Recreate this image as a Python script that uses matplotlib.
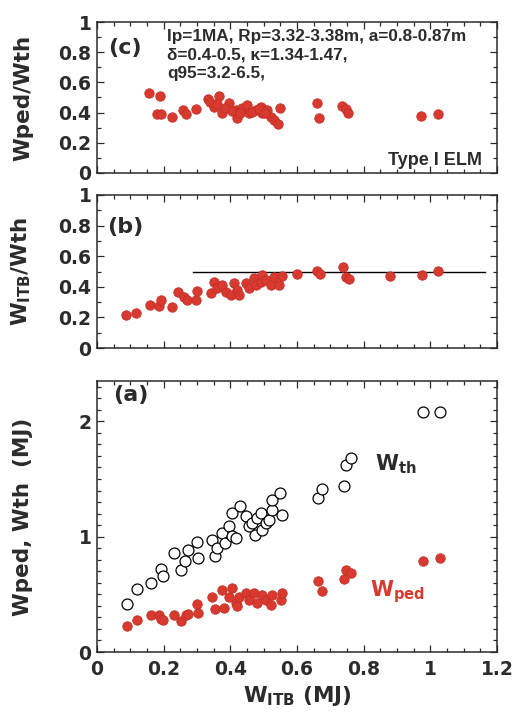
import numpy as np
import matplotlib
matplotlib.use("Agg")
import matplotlib.pyplot as plt
from matplotlib.ticker import MultipleLocator

plt.rcParams['font.family'] = ['DejaVu Sans']
plt.rcParams['font.weight'] = 'bold'
plt.rcParams['mathtext.default'] = 'bf'

RED = '#d83a30'
RED_EDGE = '#c22e26'
INK = '#2b2b2b'

# (c) pedestal energy fraction vs W_ITB
c_witb = [0.156, 0.189, 0.181, 0.191, 0.224, 0.259, 0.266, 0.296, 0.334, 0.366,
          0.351, 0.376, 0.396, 0.416, 0.421, 0.436, 0.451, 0.456, 0.476, 0.491,
          0.496, 0.511, 0.521, 0.531, 0.544, 0.549, 0.385, 0.405, 0.430, 0.465,
          0.485, 0.505, 0.340, 0.360, 0.660, 0.666, 0.736, 0.746, 0.754, 0.973, 1.023]
c_ratio = [0.528, 0.512, 0.391, 0.389, 0.373, 0.417, 0.389, 0.422, 0.488, 0.512,
           0.439, 0.395, 0.462, 0.417, 0.362, 0.428, 0.450, 0.395, 0.417, 0.439,
           0.395, 0.417, 0.373, 0.351, 0.325, 0.428, 0.430, 0.410, 0.400, 0.405,
           0.425, 0.400, 0.470, 0.455, 0.464, 0.362, 0.444, 0.422, 0.399, 0.377, 0.389]
c_conditions = ['Ip=1MA, Rp=3.32-3.38m, a=0.8-0.87m',
                'δ=0.4-0.5, κ=1.34-1.47,',
                'q95=3.2-6.5,']

# (b) ITB energy fraction vs W_ITB
b_witb = [0.086, 0.116, 0.158, 0.186, 0.191, 0.226, 0.244, 0.261, 0.271, 0.296,
          0.299, 0.341, 0.351, 0.361, 0.376, 0.386, 0.401, 0.411, 0.421, 0.426,
          0.446, 0.456, 0.471, 0.476, 0.491, 0.496, 0.506, 0.521, 0.531, 0.546,
          0.554, 0.599, 0.661, 0.669, 0.738, 0.746, 0.756, 0.879, 0.974, 1.024]
b_ratio = [0.216, 0.231, 0.281, 0.277, 0.314, 0.270, 0.364, 0.335, 0.314, 0.314,
           0.373, 0.357, 0.433, 0.390, 0.412, 0.368, 0.346, 0.423, 0.379, 0.346,
           0.423, 0.390, 0.455, 0.412, 0.433, 0.477, 0.444, 0.412, 0.466, 0.412,
           0.471, 0.481, 0.503, 0.481, 0.527, 0.466, 0.451, 0.471, 0.477, 0.503]
b_level = 0.5
b_level_span = [0.288, 1.164]

# (a) stored energies vs W_ITB
wth_witb = [0.091, 0.121, 0.161, 0.191, 0.198, 0.231, 0.251, 0.264, 0.274, 0.301,
            0.304, 0.344, 0.354, 0.361, 0.376, 0.384, 0.396, 0.406, 0.416, 0.404,
            0.428, 0.446, 0.456, 0.466, 0.474, 0.481, 0.491, 0.496, 0.506, 0.516,
            0.524, 0.526, 0.549, 0.556, 0.664, 0.676, 0.741, 0.748, 0.761, 0.979, 1.028]
wth = [0.417, 0.545, 0.597, 0.719, 0.655, 0.858, 0.707, 0.785, 0.881, 0.951,
       0.815, 0.968, 0.835, 0.902, 1.032, 0.945, 1.090, 1.003, 0.989, 1.206,
       1.263, 1.177, 1.090, 1.119, 1.017, 1.163, 1.206, 1.061, 1.119, 1.148,
       1.235, 1.322, 1.380, 1.191, 1.336, 1.417, 1.437, 1.620, 1.684, 2.084, 2.084]

wped_witb = [0.091, 0.121, 0.161, 0.186, 0.191, 0.198, 0.231, 0.251, 0.266, 0.274,
             0.301, 0.304, 0.344, 0.354, 0.374, 0.381, 0.404, 0.396, 0.416, 0.421,
             0.426, 0.446, 0.456, 0.471, 0.481, 0.496, 0.506, 0.521, 0.526, 0.551,
             0.554, 0.664, 0.674, 0.741, 0.748, 0.761, 0.979, 1.028]
wped = [0.226, 0.278, 0.322, 0.320, 0.290, 0.275, 0.322, 0.272, 0.322, 0.330,
        0.417, 0.336, 0.476, 0.371, 0.539, 0.380, 0.554, 0.481, 0.423, 0.400,
        0.481, 0.510, 0.452, 0.510, 0.423, 0.496, 0.452, 0.409, 0.496, 0.452,
        0.510, 0.620, 0.525, 0.632, 0.707, 0.684, 0.785, 0.815]

xticks = [0, 0.2, 0.4, 0.6, 0.8, 1, 1.2]
xtick_labels = ['0', '0.2', '0.4', '0.6', '0.8', '1', '1.2']
ratio_ticks = [0, 0.2, 0.4, 0.6, 0.8, 1]
ratio_labels = ['0', '0.2', '0.4', '0.6', '0.8', '1']
energy_ticks = [0, 1, 2]
energy_labels = ['0', '1', '2']

W, H = 521, 720
fig = plt.figure(figsize=(W / 100, H / 100), dpi=100)


def px_axes(left, top, right, bottom):
    return fig.add_axes([left / W, 1 - bottom / H, (right - left) / W, (bottom - top) / H])


def style(ax, ymax, yminor, yticks, ylabels):
    ax.set_xlim(0, 1.2)
    ax.xaxis.set_major_locator(MultipleLocator(0.2))
    ax.xaxis.set_minor_locator(MultipleLocator(0.05))
    ax.set_yticks(yticks)
    ax.set_yticklabels(ylabels, fontweight='bold')
    ax.yaxis.set_minor_locator(MultipleLocator(yminor))
    ax.set_ylim(0, ymax)
    ax.tick_params(which='both', direction='in', top=True, right=True,
                   labelsize=13.5, colors=INK, width=0.9, pad=4)
    ax.tick_params(which='major', length=5)
    ax.tick_params(which='minor', length=3)
    for s in ax.spines.values():
        s.set_linewidth(1.1)
        s.set_color(INK)


red_kw = dict(s=46, c=RED, edgecolors=RED_EDGE, linewidths=0.6, zorder=3)
sans = ['Liberation Sans', 'DejaVu Sans']

# panel (c)
axc = px_axes(97, 22, 497, 173)
axc.scatter(c_witb, c_ratio, **red_kw)
style(axc, 1.0, 0.1, ratio_ticks, ratio_labels)
axc.set_xticklabels([])
axc.text(0.027, 0.83, '(c)', transform=axc.transAxes, fontsize=16,
         fontweight='bold', color=INK, va='center')
# one text per line keeps the spacing even across the mixed font list
for i, line in enumerate(c_conditions):
    axc.text(0.175, 0.905 - i * 0.123, line, transform=axc.transAxes,
             fontsize=12.3, fontweight='bold', color=INK, va='center',
             ha='left', family=sans)
axc.text(0.962, 0.055, 'Type I ELM', transform=axc.transAxes, fontsize=13,
         fontweight='bold', color=INK, ha='right', va='baseline', family=sans)
axc.set_ylabel('Wped/Wth', fontsize=15.5, fontweight='bold', color=INK)
axc.yaxis.set_label_coords(-0.16, 0.5)

# panel (b)
axb = px_axes(97, 195, 497, 348)
axb.scatter(b_witb, b_ratio, **red_kw)
axb.plot(b_level_span, [b_level, b_level], color='black', lw=1.0, zorder=2)
style(axb, 1.0, 0.1, ratio_ticks, ratio_labels)
axb.set_xticklabels([])
axb.text(0.025, 0.79, '(b)', transform=axb.transAxes, fontsize=16,
         fontweight='bold', color=INK, va='center')
axb.set_ylabel('W$_{ITB}$/Wth', fontsize=15.5, fontweight='bold', color=INK)
axb.yaxis.set_label_coords(-0.16, 0.5)

# panel (a)
axa = px_axes(97, 381, 497, 652)
axa.scatter(wth_witb, wth, s=62, facecolors='white', edgecolors='black',
            linewidths=0.9, zorder=3)
axa.scatter(wped_witb, wped, **red_kw)
style(axa, 2.35, 0.1, energy_ticks, energy_labels)
axa.set_xticks(xticks)
axa.set_xticklabels(xtick_labels, fontweight='bold')
axa.tick_params(axis='x', which='major', pad=6)
axa.text(0.04, 0.948, '(a)', transform=axa.transAxes, fontsize=16,
         fontweight='bold', color=INK, va='center')
axa.text(0.835, 1.63, 'W$_{th}$', fontsize=15, color=INK, va='center')
axa.text(0.82, 0.52, 'W$_{ped}$', fontsize=15, color=RED, va='center')
axa.set_ylabel('Wped, Wth  (MJ)', fontsize=15.5, fontweight='bold', color=INK)
axa.yaxis.set_label_coords(-0.16, 0.5)
axa.set_xlabel('W$_{ITB}$ (MJ)', fontsize=15.5, fontweight='bold', color=INK,
               labelpad=3)

fig.savefig('out.png', dpi=100)
